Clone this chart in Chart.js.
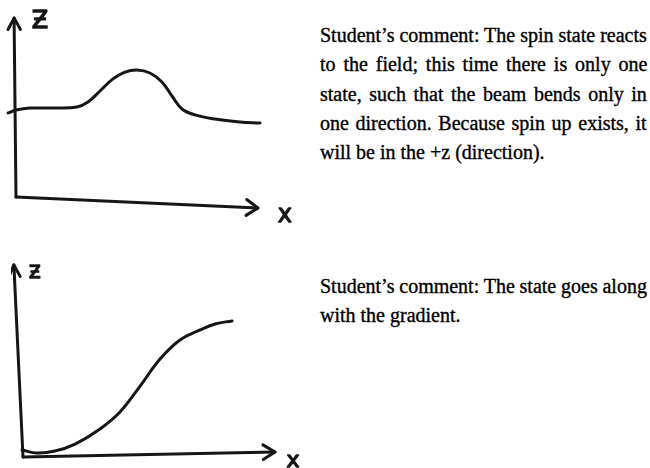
<!DOCTYPE html>
<html>
<head>
<meta charset="utf-8">
<script src="https://cdn.jsdelivr.net/npm/chart.js@4.4.1/dist/chart.umd.min.js"></script>
<style>
  html, body { margin:0; padding:0; background:#fff; width:650px; height:468px; overflow:hidden; position:relative; }
  .sk { position:absolute; width:300px; height:225px; }
  #skTop { left:4px; top:-1px; }
  #skBot { left:11px; top:259px; }
  .note { position:absolute; left:320px; width:327px; font-family:'Liberation Serif','Times New Roman',serif;
          font-size:20px; line-height:29.3px; color:#000; -webkit-text-stroke:0.35px #000; }
  .note div { white-space:nowrap; }
  #noteTop { top:21px; }
  #noteBot { top:272px; }
</style>
</head>
<body>
<div class="sk" id="skTop"><canvas id="cTop"></canvas></div>
<div class="sk" id="skBot"><canvas id="cBot"></canvas></div>

<div class="note" id="noteTop">
  <div>Student’s comment: The spin state reacts</div>
  <div>to the field; this time there is only one</div>
  <div>state, such that the beam bends only in</div>
  <div>one direction. Because spin up exists, it</div>
  <div>will be in the +z (direction).</div>
</div>
<div class="note" id="noteBot">
  <div>Student’s comment: The state goes along</div>
  <div>with the gradient.</div>
</div>

<script>
// ── Sketch 1: bump curve (x, z in sketch units) ───────────
const TOP_X = [-0.33, 0, 0.58, 1.63, 2.54, 3.0, 3.5, 4.04, 4.54, 5.04, 5.58, 6.08, 6.5, 6.92, 7.46, 8.29, 9.33, 10.17];
const TOP_Z = [4.67, 4.83, 4.94, 4.94, 5.0, 5.28, 5.89, 6.56, 6.94, 7.06, 6.89, 6.39, 5.61, 4.89, 4.56, 4.33, 4.17, 4.11];
const TOP_ZAXIS_X = [0, -0.08];
const TOP_ZAXIS_Z = [0, 9.94];
const TOP_XAXIS_X = [0, 10.08];
const TOP_XAXIS_Z = [0, -0.61];

// ── Sketch 2: rising S-curve ───────────────────────────────
const BOT_X = [-0.04, 0.58, 1.33, 2.17, 3.21, 4.04, 4.88, 5.71, 6.54, 7.38, 8.0, 8.71];
const BOT_Z = [0.39, 0.22, 0.33, 0.72, 1.56, 2.5, 3.94, 5.44, 6.5, 7.06, 7.39, 7.56];
const BOT_ZAXIS_X = [0, -0.38];
const BOT_ZAXIS_Z = [0, 10.67];
const BOT_XAXIS_X = [0, 10.5];
const BOT_XAXIS_Z = [0, 0.28];

const INK = '#161616';

function pts(xs, zs) { return xs.map((x, i) => ({ x, y: zs[i] })); }

function curve(xs, zs) {
  return { data: pts(xs, zs), showLine:true, borderColor:INK, borderWidth:3, pointRadius:0,
           tension:0.4, borderCapStyle:'round', borderJoinStyle:'round', clip:false };
}

function axis(xs, zs, arrow) {
  return { data: pts(xs, zs), showLine:true, borderColor:INK, borderWidth:3, pointRadius:0,
           tension:0, borderCapStyle:'round', clip:false, arrow };
}

// open arrow heads + hand labels at the end of each axis
const sketchMarks = {
  id: 'sketchMarks',
  afterDatasetsDraw(chart) {
    const ctx = chart.ctx;
    chart.data.datasets.forEach((ds, i) => {
      if (!ds.arrow) return;
      const el = chart.getDatasetMeta(i).data;
      const a = el[el.length - 2], b = el[el.length - 1];
      const ang = Math.atan2(b.y - a.y, b.x - a.x);
      const L = ds.arrow.len, h = ds.arrow.spread;
      ctx.save();
      ctx.strokeStyle = INK; ctx.lineWidth = 3; ctx.lineCap = 'round'; ctx.lineJoin = 'round';
      ctx.beginPath();
      ctx.moveTo(b.x - L * Math.cos(ang - h), b.y - L * Math.sin(ang - h));
      ctx.lineTo(b.x, b.y);
      ctx.lineTo(b.x - L * Math.cos(ang + h), b.y - L * Math.sin(ang + h));
      ctx.stroke();
      ctx.fillStyle = INK;
      ctx.font = ds.arrow.font;
      ctx.textAlign = 'center';
      ctx.textBaseline = 'alphabetic';
      ctx.lineWidth = 1.3;
      ctx.fillText(ds.arrow.label, b.x + ds.arrow.dx, b.y + ds.arrow.dy);
      ctx.strokeText(ds.arrow.label, b.x + ds.arrow.dx, b.y + ds.arrow.dy);
      ctx.restore();
    });
  }
};

function sketch(id, datasets) {
  return new Chart(document.getElementById(id), {
    type: 'scatter',
    data: { datasets },
    options: {
      responsive:true, maintainAspectRatio:false, animation:false,
      layout: { padding:0 },
      scales: {
        x: { type:'linear', display:false, min:-0.5, max:12 },
        y: { type:'linear', display:false, min:-1.5, max:11 }
      },
      plugins: { legend:{ display:false }, tooltip:{ enabled:false } }
    },
    plugins: [sketchMarks]
  });
}

sketch('cTop', [
  curve(TOP_X, TOP_Z),
  axis(TOP_ZAXIS_X, TOP_ZAXIS_Z, { len:13, spread:0.5,  label:'Ƶ', dx:26, dy:10, font:"24px 'DejaVu Sans'" }),
  axis(TOP_XAXIS_X, TOP_XAXIS_Z, { len:14, spread:0.6,  label:'x', dx:27, dy:14, font:"24px 'DejaVu Sans'" })
]);

sketch('cBot', [
  curve(BOT_X, BOT_Z),
  axis(BOT_ZAXIS_X, BOT_ZAXIS_Z, { len:13, spread:0.45, label:'Ƶ', dx:21, dy:13, font:"17px 'DejaVu Sans'" }),
  axis(BOT_XAXIS_X, BOT_XAXIS_Z, { len:14, spread:0.55, label:'x', dx:18, dy:15, font:"22px 'DejaVu Sans'" })
]);

// ── justify each comment line to the column width ─────────
document.querySelectorAll('.note').forEach(note => {
  const W = note.clientWidth;
  const lines = [...note.children];
  lines.forEach((ln, k) => {
    if (k === lines.length - 1) return;
    ln.style.display = 'inline-block';
    const w = ln.offsetWidth;
    ln.style.display = 'block';
    const gaps = ln.textContent.trim().split(/\s+/).length - 1;
    if (gaps > 0) ln.style.wordSpacing = ((W - w) / gaps) + 'px';
  });
});
</script>
</body>
</html>
